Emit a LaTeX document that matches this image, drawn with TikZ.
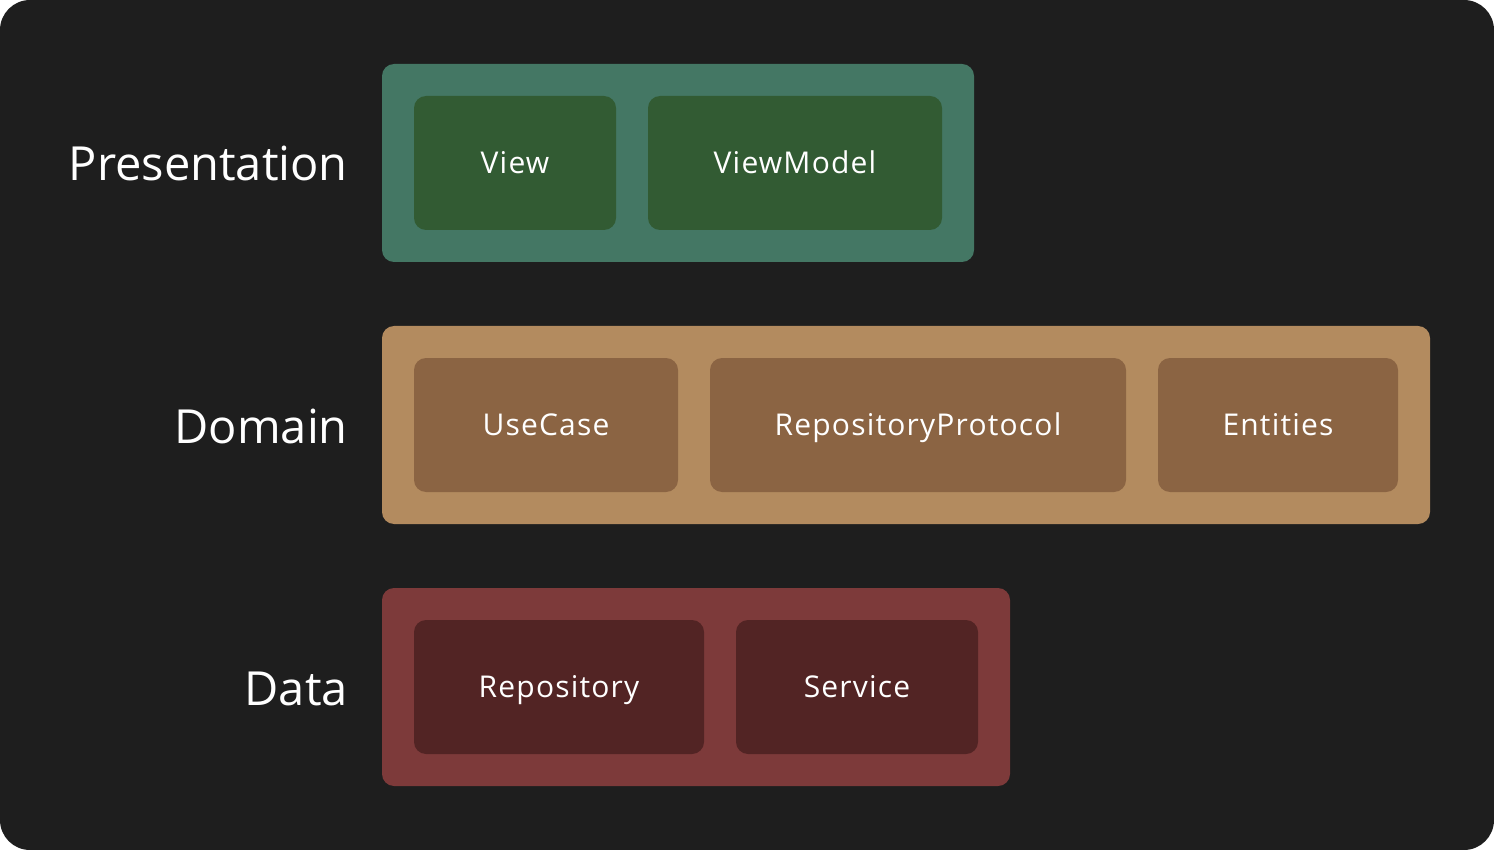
\documentclass[tikz,border=0pt]{standalone}
\usepackage{fontspec}
\setmainfont{Open Sans}
\newfontfamily\innerfont[LetterSpace=4]{Open Sans}
\definecolor{bgc}{HTML}{1E1E1E}
\definecolor{gOut}{HTML}{447764}
\definecolor{gIn}{HTML}{325B33}
\definecolor{bOut}{HTML}{B38B5F}
\definecolor{bIn}{HTML}{8B6443}
\definecolor{rOut}{HTML}{7D3A3A}
\definecolor{rIn}{HTML}{522424}
\tikzset{
  outerbox/.style={rounded corners=12pt, inner sep=0pt, minimum height=198pt},
  innerbox/.style={rounded corners=12pt, inner sep=0pt, minimum height=134pt},
  innertext/.style={text=white, font=\innerfont\fontsize{30}{30}\selectfont, anchor=base},
  layerlabel/.style={text=white, font=\fontsize{47}{47}\selectfont, anchor=base east, inner sep=0pt},
}
\begin{document}
\begin{tikzpicture}[x=1pt,y=-1pt]
\useasboundingbox (0,0) rectangle (1494,850);
\fill[bgc, rounded corners=30pt] (0,0) rectangle (1494,850);
% outer layers
\node[outerbox, fill=gOut, minimum width=592pt] (pres) at (678,163) {};
\node[outerbox, fill=bOut, minimum width=1048pt] (dom) at (906,425) {};
\node[outerbox, fill=rOut, minimum width=628pt] (dat) at (696,687) {};
% inner boxes
\node[innerbox, fill=gIn, minimum width=202pt] (view) at (515,163) {};
\node[innerbox, fill=gIn, minimum width=294pt] (vm) at (795,163) {};
\node[innerbox, fill=bIn, minimum width=264pt] (uc) at (546,425) {};
\node[innerbox, fill=bIn, minimum width=416pt] (rp) at (918,425) {};
\node[innerbox, fill=bIn, minimum width=240pt] (ent) at (1278,425) {};
\node[innerbox, fill=rIn, minimum width=290pt] (repo) at (559,687) {};
\node[innerbox, fill=rIn, minimum width=242pt] (svc) at (857,687) {};
% inner texts
\node[innertext] (tview) at ([yshift=-10.5pt]view.center) {View};
\node[innertext] (tvm) at ([yshift=-10.5pt]vm.center) {ViewModel};
\node[innertext] (tuc) at ([yshift=-10.5pt]uc.center) {UseCase};
\node[innertext] (trp) at ([yshift=-10.5pt]rp.center) {RepositoryProtocol};
\node[innertext] (tent) at ([yshift=-10.5pt]ent.center) {Entities};
\node[innertext] (trepo) at ([yshift=-10.5pt]repo.center) {Repository};
\node[innertext] (tsvc) at ([yshift=-10.5pt]svc.center) {Service};
% layer labels
\node[layerlabel] (lpres) at (348,181) {Presentation};
\node[layerlabel] (ldom) at (348,443) {Domain};
\node[layerlabel] (ldat) at (348,705) {Data};
\end{tikzpicture}
\end{document}
